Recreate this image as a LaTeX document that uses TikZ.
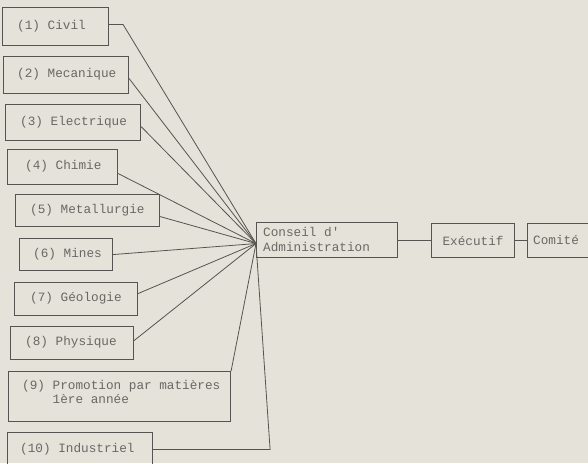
\documentclass[tikz,border=0pt]{standalone}
\usepackage{fontspec}
\setmonofont{Liberation Mono}
\definecolor{paper}{RGB}{229,226,217}
\definecolor{ink}{RGB}{85,84,80}
\definecolor{txtc}{RGB}{105,104,100}
\begin{document}
\begin{tikzpicture}[x=1pt,y=-1pt,
  box/.style n args={2}{draw=ink, line width=1.1pt, minimum width=#1, minimum height=#2, anchor=north west, inner sep=0pt, fill=none},
  txt/.style={anchor=west, inner sep=0pt, text=txtc, font=\ttfamily\fontsize{12.7}{14.5}\selectfont, align=left},
  conn/.style={draw=ink, line width=0.8pt}]
\fill[paper] (0,0) rectangle (588,463);
\useasboundingbox (0,0) rectangle (588,463);
\clip (0,0) rectangle (588,463);
% left boxes
\node[box={106pt}{38pt}] (b1) at (2,7) {};
\node[txt] (t1) at (17,26) {(1) Civil};
\node[box={125pt}{37pt}] (b2) at (3,56) {};
\node[txt] (t2) at (17,74.5) {(2) Mecanique};
\node[box={135pt}{36pt}] (b3) at (5,104) {};
\node[txt] (t3) at (20,122) {(3) Electrique};
\node[box={110pt}{35pt}] (b4) at (7,149) {};
\node[txt] (t4) at (25,166.5) {(4) Chimie};
\node[box={144pt}{32pt}] (b5) at (15,194) {};
\node[txt] (t5) at (30,210) {(5) Metallurgie};
\node[box={93pt}{32pt}] (b6) at (19,238) {};
\node[txt] (t6) at (33,254) {(6) Mines};
\node[box={123pt}{33pt}] (b7) at (14,282) {};
\node[txt] (t7) at (30,298.5) {(7) Géologie};
\node[box={123pt}{33pt}] (b8) at (10,326) {};
\node[txt] (t8) at (25,342.5) {(8) Physique};
\node[box={222pt}{50pt}] (b9) at (8,371) {};
\node[txt] (t9) at (22,393) {(9) Promotion par matières\\\phantom{(9) }1ère année};
\node[box={145pt}{34pt}] (b10) at (7,432) {};
\node[txt] (t10) at (20,449) {(10) Industriel};
% right boxes
\node[box={141pt}{35pt}] (cons) at (256,222) {};
\node[txt] (tc) at (263,239.5) {Conseil d'\\Administration};
\node[box={83pt}{34pt}] (exe) at (431,223) {};
\node[txt, anchor=center] (te) at (exe.center) {Exécutif};
\node[box={80pt}{34pt}] (com) at (527,223) {};
\node[txt] (tm) at (533,240) {Comité};
\coordinate (hub) at ([yshift=-3.5pt]cons.west);
% connectors
\draw[conn] ([yshift=2pt]b1.east) -- ++(14,0) -- (hub);
\draw[conn] ([yshift=-3.5pt]b2.east) -- (hub);
\draw[conn] ([yshift=-4pt]b3.east) -- (hub);
\draw[conn] ([yshift=-6.5pt]b4.east) -- (hub);
\draw[conn] ([yshift=-6pt]b5.east) -- (hub);
\draw[conn] (b6.east) -- (hub);
\draw[conn] ([yshift=5.5pt]b7.east) -- (hub);
\draw[conn] ([yshift=2.5pt]b8.east) -- (hub);
\draw[conn] (b9.north east) -- (hub);
\draw[conn] (b10.east) -- ++(117,0) -- (hub);
\draw[conn] (cons.east) -- (cons.east -| exe.west);
\draw[conn] (exe.east) -- (exe.east -| com.west);
\end{tikzpicture}
\end{document}
